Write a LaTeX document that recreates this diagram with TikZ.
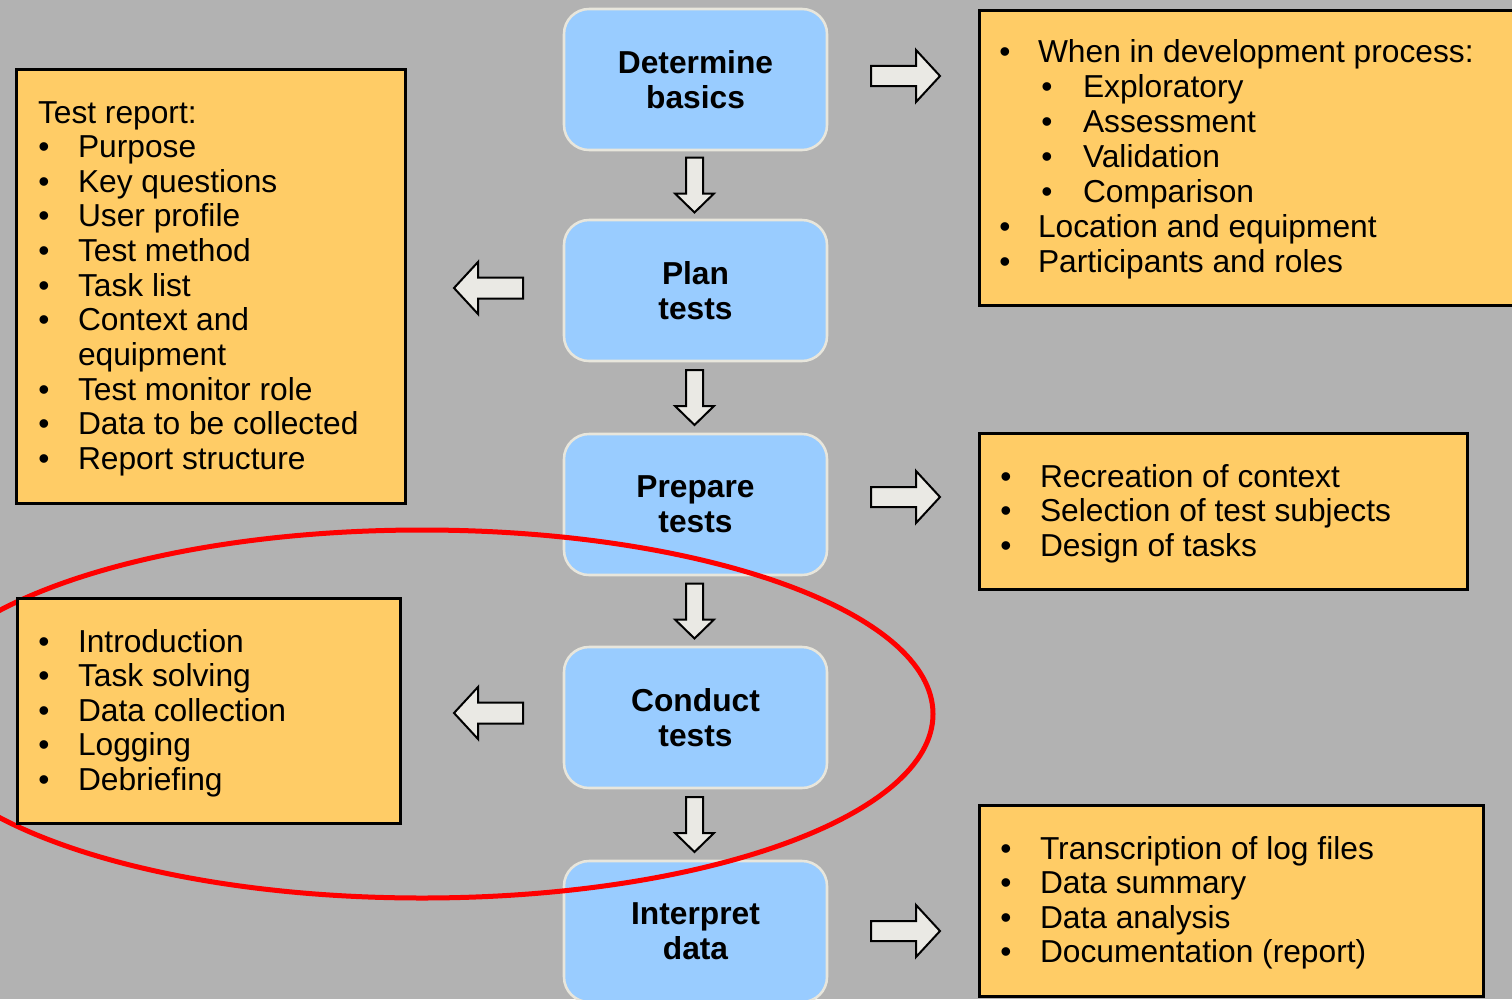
\documentclass[tikz,border=0pt]{standalone}
\usepackage{fontspec}
\setmainfont{Liberation Sans}
\usetikzlibrary{calc}
\definecolor{bg}{HTML}{B2B2B2}
\definecolor{stepblue}{HTML}{99CCFF}
\definecolor{stepedge}{HTML}{E8E6DC}
\definecolor{noteorange}{HTML}{FFCC66}
\definecolor{arrowfill}{HTML}{EAE9E4}
\definecolor{ringred}{HTML}{FF0000}
\tikzset{
  stepbox/.style={draw=stepedge, line width=1.9pt, fill=stepblue, rounded corners=18.75pt,
    minimum width=197.25pt, minimum height=105.75pt, inner sep=0pt, outer sep=0pt,
    align=center, font=\fontsize{23.8}{26}\selectfont\bfseries},
  notebox/.style={draw=black, line width=2.25pt, fill=noteorange, anchor=north west,
    inner sep=0pt, outer sep=0pt},
  txt/.style={anchor=base west, inner sep=0pt, outer sep=0pt, font=\fontsize{23.8}{26}\selectfont},
  bul/.style={anchor=base, inner sep=0pt, outer sep=0pt, font=\fontsize{23.8}{26}\selectfont},
  blockarrow/.style={draw=black, line width=1.5pt, fill=arrowfill, line join=miter},
  rblock/.pic={\draw[blockarrow] (-34.5,-10) -- (10.5,-10) -- (10.5,-26) -- (34.5,0) -- (10.5,26) -- (10.5,10) -- (-34.5,10) -- cycle;},
  lblock/.pic={\draw[blockarrow] (34.5,-10.5) -- (-10.5,-10.5) -- (-10.5,-26) -- (-34.5,0) -- (-10.5,26) -- (-10.5,10.5) -- (34.5,10.5) -- cycle;},
  dblock/.pic={\draw[blockarrow] (-8.5,-27.5) -- (8.5,-27.5) -- (8.5,8.5) -- (19.5,8.5) -- (0,27.5) -- (-19.5,8.5) -- (-8.5,8.5) -- cycle;}
}
\begin{document}
\begin{tikzpicture}[x=0.75pt,y=-0.75pt]
\useasboundingbox (0,0) rectangle (1512,999);
\clip (0,0) rectangle (1512,999);
\fill[bg] (0,0) rectangle (1512,999);

% process steps
\node[stepbox] (b1) at (695.5,79.5) {Determine\\basics};
\node[stepbox] (b2) at (695.5,290.5) {Plan\\tests};
\node[stepbox] (b3) at (695.5,504.5) {Prepare\\tests};
\node[stepbox] (b4) at (695.5,717.5) {Conduct\\tests};
\node[stepbox] (b5) at (695.5,931.5) {Interpret\\data};

% down arrows between steps
\pic at ($(b1.south)!0.5!(b2.north)+(-1,0)$) {dblock};
\pic at ($(b2.south)!0.5!(b3.north)+(-1,0)$) {dblock};
\pic at ($(b3.south)!0.5!(b4.north)+(-1,0)$) {dblock};
\pic at ($(b4.south)!0.5!(b5.north)+(-1,0)$) {dblock};

% side arrows
\pic at (905.5,76) {rblock};
\pic at (905.5,497) {rblock};
\pic at (905.5,931) {rblock};
\pic at (488.5,288) {lblock};
\pic at (488.5,713) {lblock};

% top left note
\node[notebox, minimum width=291.75pt, minimum height=325.5pt] (tl) at (16.5,69.5) {};
\node[txt] (tlh) at (38,123) {Test report:};
\foreach \i/\t in {1/Purpose,2/Key questions,3/User profile,4/Test method,5/Task list,6/Context and,8/Test monitor role,9/Data to be collected,10/Report structure}{
  \node[bul] (tlb\i) at (44,123+34.65*\i) {•};
  \node[txt] (tlt\i) at (78,123+34.65*\i) {\t};
}
\node[txt] (tlt7) at (78,123+34.65*7) {equipment};

% top right note
\node[notebox, minimum width=405.4pt, minimum height=221.25pt] (tr) at (979.5,10.5) {};
\foreach \i/\t in {0/When in development process:,5/Location and equipment,6/Participants and roles}{
  \node[bul] (trb\i) at (1005,63+34.85*\i) {•};
  \node[txt] (trt\i) at (1038,63+34.85*\i) {\t};
}
\foreach \i/\t in {1/Exploratory,2/Assessment,3/Validation,4/Comparison}{
  \node[bul] (trb\i) at (1047,63+34.85*\i) {•};
  \node[txt] (trt\i) at (1083,63+34.85*\i) {\t};
}

% middle right note
\node[notebox, minimum width=366pt, minimum height=117pt] (mr) at (979.5,433.5) {};
\foreach \i/\t in {0/Recreation of context,1/Selection of test subjects,2/Design of tasks}{
  \node[bul] (mrb\i) at (1006,487+34.5*\i) {•};
  \node[txt] (mrt\i) at (1040,487+34.5*\i) {\t};
}

% bottom right note
\node[notebox, minimum width=378pt, minimum height=142.9pt] (br) at (979.5,805.5) {};
\foreach \i/\t in {0/Transcription of log files,1/Data summary,2/Data analysis,3/Documentation (report)}{
  \node[bul] (brb\i) at (1006,859+34.6*\i) {•};
  \node[txt] (brt\i) at (1040,859+34.6*\i) {\t};
}

% highlight ring
\draw[ringred, line width=3.75pt] (422,714) ellipse [x radius=511, y radius=184];

% bottom left note
\node[notebox, minimum width=287.25pt, minimum height=168.75pt] (bl) at (17.5,598.5) {};
\foreach \i/\t in {0/Introduction,1/Task solving,2/Data collection,3/Logging,4/Debriefing}{
  \node[bul] (blb\i) at (44,652+34.55*\i) {•};
  \node[txt] (blt\i) at (78,652+34.55*\i) {\t};
}
\end{tikzpicture}
\end{document}
